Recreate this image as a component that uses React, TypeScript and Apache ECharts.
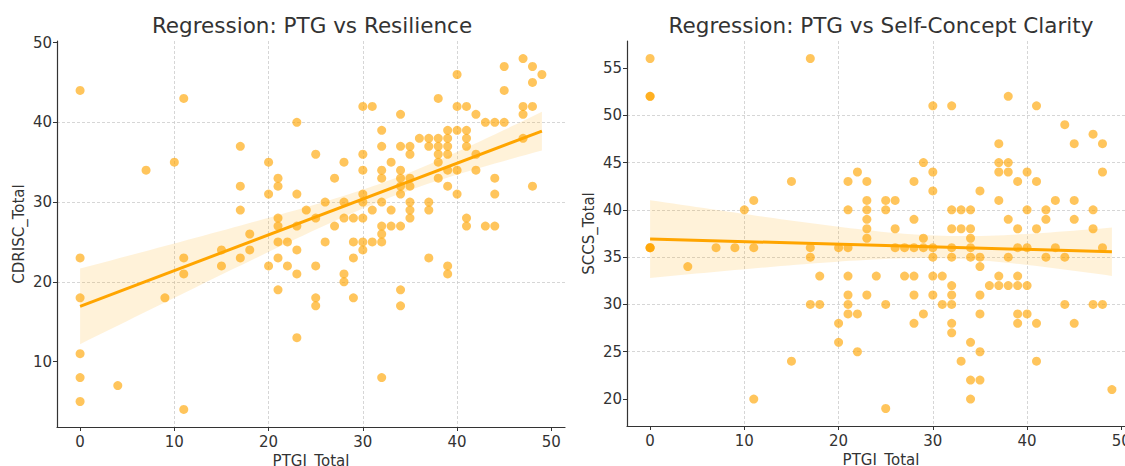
import React, { useEffect, useRef } from "react";
import * as echarts from "echarts";

// PTGI_Total vs CDRISC_Total
const resiliencePoints: [number, number][] = [
  [0, 44], [0, 23], [0, 18], [0, 11], [0, 8], [0, 5],
  [4, 7], [7, 34], [9, 18], [10, 35],
  [11, 43], [11, 23], [11, 21], [11, 4],
  [15, 24], [15, 22],
  [17, 37], [17, 32], [17, 29], [17, 23],
  [18, 26], [18, 24],
  [20, 35], [20, 31], [20, 22],
  [21, 33], [21, 32], [21, 28], [21, 27], [21, 25], [21, 23], [21, 19],
  [22, 25], [22, 22],
  [23, 40], [23, 31], [23, 27], [23, 24], [23, 21], [23, 13],
  [24, 29],
  [25, 36], [25, 28], [25, 22], [25, 18], [25, 17],
  [26, 30], [26, 25],
  [27, 33], [27, 27],
  [28, 35], [28, 30], [28, 28], [28, 21], [28, 20],
  [29, 28], [29, 25], [29, 23], [29, 18],
  [30, 42], [30, 36], [30, 34], [30, 31], [30, 30], [30, 28], [30, 25], [30, 24],
  [31, 42], [31, 29], [31, 25],
  [32, 39], [32, 37], [32, 34], [32, 33], [32, 30], [32, 27], [32, 26], [32, 25], [32, 8],
  [33, 35], [33, 29], [33, 27],
  [34, 41], [34, 37], [34, 34], [34, 33], [34, 32], [34, 31], [34, 27], [34, 19], [34, 17],
  [35, 37], [35, 36], [35, 33], [35, 32], [35, 30], [35, 29], [35, 28],
  [36, 38],
  [37, 38], [37, 37], [37, 30], [37, 29], [37, 23],
  [38, 43], [38, 38], [38, 37], [38, 36], [38, 35], [38, 33],
  [39, 39], [39, 38], [39, 37], [39, 36], [39, 34], [39, 32], [39, 22], [39, 21],
  [40, 46], [40, 42], [40, 39], [40, 34], [40, 31],
  [41, 42], [41, 39], [41, 38], [41, 37], [41, 28], [41, 27],
  [42, 41], [42, 36], [42, 34],
  [43, 40], [43, 27],
  [44, 40], [44, 33], [44, 31], [44, 27],
  [45, 47], [45, 44], [45, 40],
  [47, 48], [47, 42], [47, 41], [47, 38],
  [48, 47], [48, 45], [48, 42], [48, 32],
  [49, 46],
];

// PTGI_Total vs SCCS_Total
const clarityPoints: [number, number][] = [
  [0, 56], [0, 52], [0, 52], [0, 36], [0, 36], [0, 36],
  [4, 34], [7, 36], [9, 36], [10, 40],
  [11, 41], [11, 36], [11, 20],
  [15, 43], [15, 24],
  [17, 56], [17, 36], [17, 35], [17, 30],
  [18, 33], [18, 30],
  [20, 36], [20, 28], [20, 26],
  [21, 43], [21, 40], [21, 36], [21, 33], [21, 31], [21, 30], [21, 29],
  [22, 44], [22, 29], [22, 25],
  [23, 43], [23, 41], [23, 40], [23, 39], [23, 38], [23, 37], [23, 31],
  [24, 33],
  [25, 41], [25, 40], [25, 30], [25, 19],
  [26, 41], [26, 38], [26, 36],
  [27, 36], [27, 33],
  [28, 43], [28, 39], [28, 36], [28, 33], [28, 31], [28, 28],
  [29, 45], [29, 37], [29, 36], [29, 29],
  [30, 51], [30, 44], [30, 42], [30, 36], [30, 35], [30, 33], [30, 31],
  [31, 33], [31, 30],
  [32, 51], [32, 40], [32, 38], [32, 36], [32, 35], [32, 32], [32, 31], [32, 30], [32, 28], [32, 27],
  [33, 40], [33, 38], [33, 24],
  [34, 40], [34, 38], [34, 37], [34, 36], [34, 35], [34, 26], [34, 22], [34, 20],
  [35, 42], [35, 35], [35, 34], [35, 31], [35, 29], [35, 25], [35, 22],
  [36, 32],
  [37, 47], [37, 45], [37, 44], [37, 41], [37, 33], [37, 32],
  [38, 52], [38, 45], [38, 44], [38, 39], [38, 35], [38, 32],
  [39, 43], [39, 38], [39, 36], [39, 33], [39, 32], [39, 29], [39, 28],
  [40, 44], [40, 40], [40, 36], [40, 32], [40, 29],
  [41, 51], [41, 43], [41, 38], [41, 28], [41, 24],
  [42, 40], [42, 39], [42, 35],
  [43, 41], [43, 36],
  [44, 49], [44, 35], [44, 30],
  [45, 47], [45, 41], [45, 39], [45, 28],
  [47, 48], [47, 40], [47, 38], [47, 30],
  [48, 47], [48, 44], [48, 36], [48, 30],
  [49, 21],
];

const titles = ["Regression: PTG vs Resilience", "Regression: PTG vs Self-Concept Clarity"];
const xName = "PTGI_Total";
const yNames = ["CDRISC_Total", "SCCS_Total"];
const xTicks = [0, 10, 20, 30, 40, 50];
const yTicksLeft = [10, 20, 30, 40, 50];
const yTicksRight = [20, 25, 30, 35, 40, 45, 50, 55];

const FONT = "DejaVu Sans";
const TEXT = "#333333";
const ORANGE = "#FFA500";

// OLS fit with a heteroskedasticity-robust (sandwich) 95% band for the mean
function regression(pts: [number, number][]) {
  const n = pts.length;
  const xb = pts.reduce((s, p) => s + p[0], 0) / n;
  const yb = pts.reduce((s, p) => s + p[1], 0) / n;
  let sxx = 0, sxy = 0;
  pts.forEach(([x, y]) => { sxx += (x - xb) ** 2; sxy += (x - xb) * (y - yb); });
  const b = sxy / sxx;
  const a = yb - b * xb;
  const res = pts.map(([x, y]) => y - (a + b * x));
  const t = 1.976;
  const corr = n / (n - 2);
  const xs = pts.map((p) => p[0]);
  const xmin = Math.min(...xs), xmax = Math.max(...xs);
  const line: [number, number][] = [[xmin, a + b * xmin], [xmax, a + b * xmax]];
  const upper: [number, number][] = [];
  const lower: [number, number][] = [];
  const steps = 60;
  for (let i = 0; i <= steps; i++) {
    const x = xmin + ((xmax - xmin) * i) / steps;
    const yh = a + b * x;
    let v = 0;
    pts.forEach(([xi], k) => {
      const w = 1 / n + ((x - xb) * (xi - xb)) / sxx;
      v += w * w * res[k] * res[k];
    });
    const h = t * Math.sqrt(v * corr);
    upper.push([x, yh + h]);
    lower.push([x, yh - h]);
  }
  return { line, band: upper.concat(lower.reverse()) };
}

function extent(vals: number[]) {
  const mn = Math.min(...vals), mx = Math.max(...vals);
  const m = (mx - mn) * 0.05;
  return [mn - m, mx + m];
}

export default function App() {
  const ref = useRef<HTMLDivElement>(null);
  useEffect(() => {
    if (!ref.current) return;
    const chart = echarts.init(ref.current, null, { renderer: "svg" });
    const panels = [resiliencePoints, clarityPoints];
    const grids = [
      { left: 57, top: 41, width: 508, height: 386, outerBoundsMode: "none", containLabel: false },
      { left: 627, top: 41, width: 508, height: 385, outerBoundsMode: "none", containLabel: false },
    ];
    const titleCenters = [307, 876];
    const yTickSets = [yTicksLeft, yTicksRight];
    const xAxis: any[] = [];
    const yAxis: any[] = [];
    const series: any[] = [];
    const title: any[] = [];
    panels.forEach((pts, i) => {
      const xe = extent(pts.map((p) => p[0]));
      const ye = extent(pts.map((p) => p[1]));
      const reg = regression(pts);
      const axisCommon = {
        axisLine: { show: true, onZero: false, lineStyle: { color: TEXT, width: 1.2 } },
        axisTick: { show: true, length: 4, inside: false, lineStyle: { color: TEXT, width: 1 } },
        splitLine: { show: true, showMinLine: false, showMaxLine: false, lineStyle: { color: "#cccccc", type: [3, 2], width: 0.8 } },
        nameLocation: "middle",
        nameTextStyle: { color: TEXT, fontSize: 15, fontFamily: FONT },
      };
      xAxis.push({
        ...axisCommon,
        type: "value",
        gridIndex: i,
        min: xe[0],
        max: xe[1],
        name: xName,
        nameGap: 25,
        axisTick: { ...axisCommon.axisTick, customValues: xTicks },
        axisLabel: { customValues: xTicks, color: TEXT, fontSize: 15, fontFamily: FONT, margin: 7 },
      });
      yAxis.push({
        ...axisCommon,
        type: "value",
        gridIndex: i,
        min: ye[0],
        max: ye[1],
        name: yNames[i],
        nameGap: 31,
        axisTick: { ...axisCommon.axisTick, customValues: yTickSets[i] },
        axisLabel: { customValues: yTickSets[i], color: TEXT, fontSize: 15, fontFamily: FONT, margin: 5 },
      });
      title.push({
        text: titles[i],
        left: titleCenters[i],
        top: 9,
        textAlign: "center",
        textStyle: { color: TEXT, fontSize: 21.5, fontWeight: "normal", fontFamily: FONT },
      });
      series.push({
        type: "scatter",
        xAxisIndex: i,
        yAxisIndex: i,
        data: pts,
        symbolSize: 9,
        itemStyle: { color: "rgba(255,165,0,0.8)" },
        z: 2,
      });
      series.push({
        type: "custom",
        xAxisIndex: i,
        yAxisIndex: i,
        data: [[reg.line[0][0], reg.line[0][1]]],
        z: 3,
        silent: true,
        renderItem: (_p: any, api: any) => ({
          type: "polygon",
          shape: { points: reg.band.map((q) => api.coord(q)) },
          style: { fill: "rgba(255,165,0,0.15)" },
        }),
      });
      series.push({
        type: "line",
        xAxisIndex: i,
        yAxisIndex: i,
        data: reg.line,
        showSymbol: false,
        lineStyle: { color: ORANGE, width: 3 },
        z: 4,
      });
    });
    chart.setOption({
      animation: false,
      backgroundColor: "#ffffff",
      title,
      grid: grids,
      xAxis,
      yAxis,
      series,
    });
    return () => chart.dispose();
  }, []);
  return <div ref={ref} style={{ position: "absolute", left: 0, top: 0, width: 1125, height: 466 }} />;
}
